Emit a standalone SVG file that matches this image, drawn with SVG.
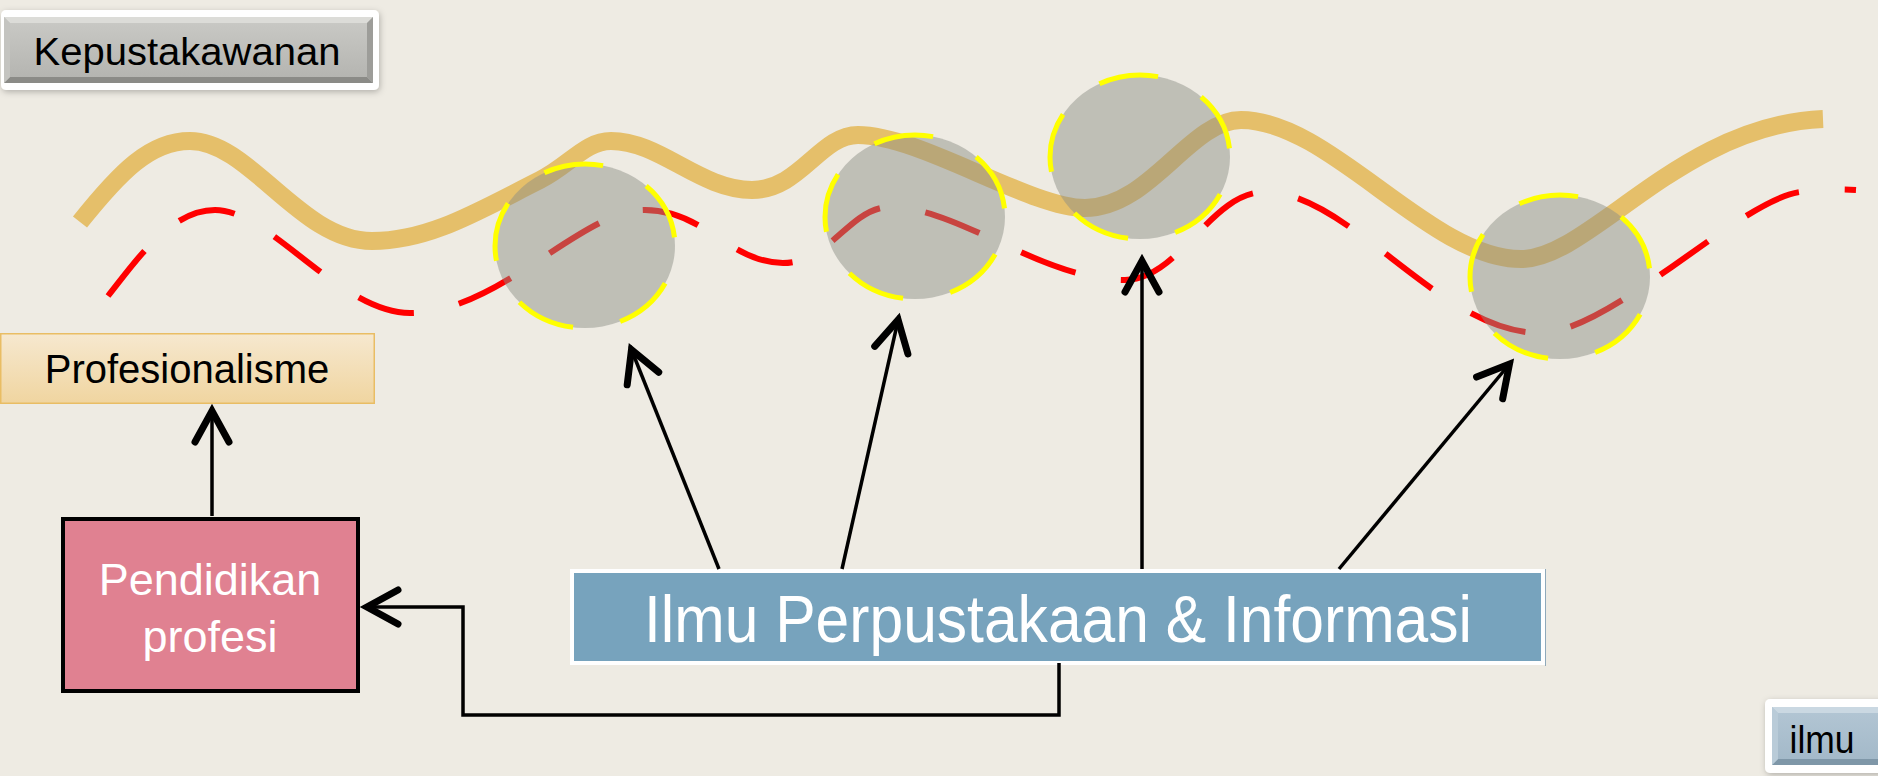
<svg xmlns="http://www.w3.org/2000/svg" width="1878" height="776" viewBox="0 0 1878 776">
  <defs>
    <style>
      .lbl { font-family: "Liberation Sans", Arial, "DejaVu Sans", sans-serif; }
      .narrow { font-family: "Liberation Sans Narrow", "Liberation Sans", Arial, sans-serif; }
      .conn { fill: none; stroke: #000; stroke-width: 3.5; marker-end: url(#arrowOpen); }
      .bubble { fill: #8c8e85; fill-opacity: 0.48; stroke: #ffff00; stroke-width: 5; stroke-dasharray: 60 48; stroke-dashoffset: 69; }
    </style>
    <marker id="arrowOpen" markerUnits="userSpaceOnUse" viewBox="-40 -25 60 50" markerWidth="60" markerHeight="50" refX="4" refY="0" orient="auto" overflow="visible">
      <path d="M-31,-17 L0,0 L-31,17" fill="none" stroke="#000" stroke-width="7" stroke-linecap="round" stroke-linejoin="miter"/>
    </marker>
    <linearGradient id="grayFace" x1="0" y1="0" x2="0" y2="1">
      <stop offset="0" stop-color="#cacac6"/>
      <stop offset="1" stop-color="#b3b3af"/>
    </linearGradient>
    <linearGradient id="blueFace" x1="0" y1="0" x2="0" y2="1">
      <stop offset="0" stop-color="#b3c6d4"/>
      <stop offset="1" stop-color="#a2b8c8"/>
    </linearGradient>
    <linearGradient id="sandFace" x1="0" y1="0" x2="0" y2="1">
      <stop offset="0" stop-color="#f6e8cf"/>
      <stop offset="1" stop-color="#f0d5a0"/>
    </linearGradient>
    <filter id="softShadow" x="-10%" y="-20%" width="120%" height="140%">
      <feDropShadow dx="1" dy="2" stdDeviation="3" flood-color="#000" flood-opacity="0.25"/>
    </filter>
  </defs>

  <!-- page -->
  <rect x="0" y="0" width="1878" height="776" fill="#eeebe3"/>

  <!-- wavy bands -->
  <path d="M80,222 C120,172 150,141 190,141 C250,141 300,241 372,241 C430,241 480,210 540,180 C570,165 585,141 611,141 C660,141 700,190 752,190 C800,190 820,135 858,135 C920,135 1030,208 1085,208 C1150,208 1190,120 1241,120 C1330,120 1430,259 1521,259 C1590,259 1680,125 1823,119" fill="none" stroke="#e5bf6a" stroke-width="18"/>
  <path d="M108,296 C135,262 170,210 215,210 C270,210 340,313 410,313 C500,313 580,210 645,210 C705,210 730,263 783,263 C830,263 850,207 890,207 C960,207 1040,280 1125,280 C1180,280 1210,192 1265,192 C1350,192 1440,333 1540,333 C1610,333 1740,200 1800,192 C1825,189 1840,189 1856,190" fill="none" stroke="#ff0000" stroke-width="6" stroke-dasharray="58 46"/>

  <!-- highlighted spots -->
  <g id="spot-1"><ellipse class="bubble" cx="585" cy="246" rx="90" ry="82"/></g>
  <g id="spot-2"><ellipse class="bubble" cx="915" cy="217" rx="90" ry="82"/></g>
  <g id="spot-3"><ellipse class="bubble" cx="1140" cy="157" rx="90" ry="82"/></g>
  <g id="spot-4"><ellipse class="bubble" cx="1560" cy="277" rx="90" ry="82"/></g>

  <!-- top-left button -->
  <g id="btn-kepustakawanan">
    <rect x="1" y="10" width="378" height="80" rx="5" fill="#ffffff" filter="url(#softShadow)"/>
    <rect x="4" y="17" width="369" height="66" fill="url(#grayFace)"/>
    <polygon points="4,17 373,17 367,23 10,23" fill="#dcdcd8"/>
    <polygon points="4,83 373,83 367,77 10,77" fill="#8b8b87"/>
    <polygon points="4,17 10,23 10,77 4,83" fill="#c4c4c0"/>
    <polygon points="373,17 367,23 367,77 373,83" fill="#9d9d99"/>
    <text class="lbl" x="187" y="65" font-size="38" text-anchor="middle" textLength="307" lengthAdjust="spacingAndGlyphs" fill="#000">Kepustakawanan</text>
  </g>

  <!-- bottom-right button -->
  <g id="btn-ilmu">
    <rect x="1765" y="699" width="120" height="74" rx="5" fill="#ffffff" filter="url(#softShadow)"/>
    <rect x="1772" y="707" width="106" height="58" fill="url(#blueFace)"/>
    <polygon points="1772,707 1878,707 1878,713 1778,713" fill="#cad8e2"/>
    <polygon points="1772,765 1878,765 1878,759 1778,759" fill="#7f97a8"/>
    <polygon points="1772,707 1778,713 1778,759 1772,765" fill="#b9cbd8"/>
    <text class="lbl" x="1822" y="753" font-size="39" text-anchor="middle" textLength="65" lengthAdjust="spacingAndGlyphs" fill="#000">ilmu</text>
  </g>

  <!-- Profesionalisme -->
  <g id="node-profesionalisme">
    <rect x="0.75" y="333.75" width="373.5" height="69.5" fill="url(#sandFace)" stroke="#e9bd64" stroke-width="1.5"/>
    <text class="lbl" x="187" y="383" font-size="40" text-anchor="middle" fill="#000">Profesionalisme</text>
  </g>

  <!-- Pendidikan profesi -->
  <g id="node-pendidikan">
    <rect x="63" y="519" width="295" height="172" fill="#e08191" stroke="#000" stroke-width="4"/>
    <text class="lbl" x="210" y="595" font-size="45" text-anchor="middle" fill="#ffffff">Pendidikan</text>
    <text class="lbl" x="210" y="652" font-size="45" text-anchor="middle" fill="#ffffff">profesi</text>
  </g>

  <!-- Ilmu Perpustakaan & Informasi -->
  <g id="node-ilmu">
    <rect x="572" y="571" width="971" height="92" fill="#77a3bd" stroke="#ffffff" stroke-width="4"/>
    <line x1="1545.5" y1="569" x2="1545.5" y2="666" stroke="#8fa9ba" stroke-width="1"/>
    <text class="narrow" x="1058" y="642" font-size="66" text-anchor="middle" textLength="828" lengthAdjust="spacingAndGlyphs" fill="#ffffff">Ilmu Perpustakaan &amp; Informasi</text>
  </g>

  <!-- connectors -->
  <g id="connectors">
    <path class="conn" d="M212,516 V407"/>
    <path class="conn" d="M1059,663 V715 H463 V607 H363"/>
    <path class="conn" d="M719,569 L630,346"/>
    <path class="conn" d="M842,569 L899,316"/>
    <path class="conn" d="M1142,569 L1142,257"/>
    <path class="conn" d="M1339,569 L1512,361"/>
  </g>
</svg>
